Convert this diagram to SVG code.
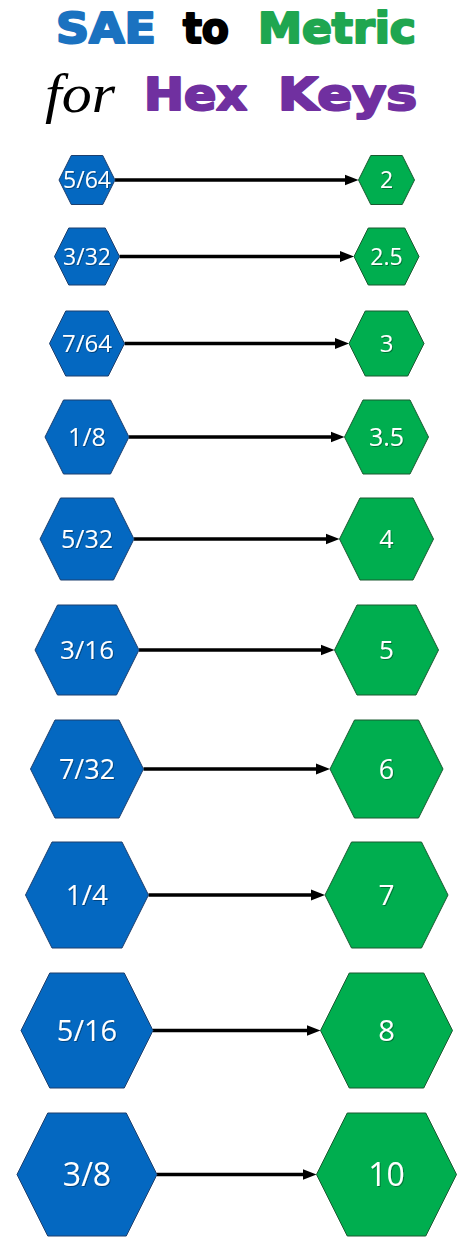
<svg xmlns="http://www.w3.org/2000/svg" width="474" height="1250" viewBox="0 0 474 1250">
<style>
.sae{fill:#0468C1;stroke:#1D3F6E;stroke-width:1}
.met{fill:#00AE4F;stroke:#1A5A30;stroke-width:1}
.lbl{font-family:"Open Sans","Liberation Sans",sans-serif;fill:#FFFFFF;text-anchor:middle;filter:url(#sh)}
.conn{stroke:#000;stroke-width:3.5;fill:none;marker-end:url(#ah)}
.ttl{font-family:"DejaVu Sans","Liberation Sans",sans-serif;font-weight:bold;stroke-width:2.2;stroke-linejoin:round}
</style>
<defs>
<marker id="ah" markerUnits="userSpaceOnUse" markerWidth="14" markerHeight="12" refX="3" refY="6" orient="auto">
<path d="M0,0.5 L14,6 L0,11.5 z" fill="#000"/>
</marker>
<filter id="sh" x="-20%" y="-20%" width="140%" height="140%">
<feDropShadow dx="1" dy="1" stdDeviation="0.7" flood-color="#000" flood-opacity="0.35"/>
</filter>
</defs>
<rect width="474" height="1250" fill="#FFFFFF"/>
<g id="title">
<text class="ttl" y="43" font-size="42" fill="#1B72C0" stroke="#1B72C0"><tspan x="56" textLength="100" lengthAdjust="spacingAndGlyphs">SAE</tspan></text>
<text class="ttl" y="43" font-size="42" fill="#000000" stroke="#000000"><tspan x="183" textLength="46" lengthAdjust="spacingAndGlyphs">to</tspan></text>
<text class="ttl" y="43" font-size="42" fill="#1FA650" stroke="#1FA650"><tspan x="258" textLength="158" lengthAdjust="spacingAndGlyphs">Metric</tspan></text>
<text x="45" y="112" font-family="'Liberation Serif',serif" font-style="italic" font-size="54" fill="#000" textLength="70" lengthAdjust="spacingAndGlyphs">for</text>
<text class="ttl" y="110" font-size="44" fill="#7030A0" stroke="#7030A0"><tspan x="144" textLength="103" lengthAdjust="spacingAndGlyphs">Hex</tspan></text>
<text class="ttl" y="110" font-size="44" fill="#7030A0" stroke="#7030A0"><tspan x="278" textLength="139" lengthAdjust="spacingAndGlyphs">Keys</tspan></text>
</g>
<g id="connectors">
<line class="conn" x1="115" y1="180" x2="347.5" y2="180"/>
<line class="conn" x1="119.5" y1="256.5" x2="343" y2="256.5"/>
<line class="conn" x1="124.5" y1="343.5" x2="338" y2="343.5"/>
<line class="conn" x1="129" y1="437" x2="333.5" y2="437"/>
<line class="conn" x1="134" y1="539" x2="328.5" y2="539"/>
<line class="conn" x1="139" y1="650" x2="323.5" y2="650"/>
<line class="conn" x1="143.5" y1="769" x2="319" y2="769"/>
<line class="conn" x1="148.5" y1="895" x2="314" y2="895"/>
<line class="conn" x1="153" y1="1030.5" x2="309.5" y2="1030.5"/>
<line class="conn" x1="157" y1="1174.5" x2="305.5" y2="1174.5"/>
</g>
<g id="sae-5-64"><polygon class="sae" points="59,180 71.25,155.5 102.75,155.5 115,180 102.75,204.5 71.25,204.5"/><text class="lbl" x="87" y="188.2" font-size="23">5/64</text></g>
<g id="met-2"><polygon class="met" points="358.5,180 370.75,155.5 402.25,155.5 414.5,180 402.25,204.5 370.75,204.5"/><text class="lbl" x="386.5" y="188.2" font-size="23">2</text></g>
<g id="sae-3-32"><polygon class="sae" points="54.5,256.5 68.75,228 105.25,228 119.5,256.5 105.25,285 68.75,285"/><text class="lbl" x="87" y="264.7" font-size="23">3/32</text></g>
<g id="met-2-5"><polygon class="met" points="354,256.5 368.25,228 404.75,228 419,256.5 404.75,285 368.25,285"/><text class="lbl" x="386.5" y="264.7" font-size="23">2.5</text></g>
<g id="sae-7-64"><polygon class="sae" points="49.5,343.5 65.75,311 108.25,311 124.5,343.5 108.25,376 65.75,376"/><text class="lbl" x="87" y="352.1" font-size="24">7/64</text></g>
<g id="met-3"><polygon class="met" points="349,343.5 365.25,311 407.75,311 424,343.5 407.75,376 365.25,376"/><text class="lbl" x="386.5" y="352.1" font-size="24">3</text></g>
<g id="sae-1-8"><polygon class="sae" points="45,437 63.5,400 110.5,400 129,437 110.5,474 63.5,474"/><text class="lbl" x="87" y="445.9" font-size="25">1/8</text></g>
<g id="met-3-5"><polygon class="met" points="344.5,437 363,400 410,400 428.5,437 410,474 363,474"/><text class="lbl" x="386.5" y="445.9" font-size="25">3.5</text></g>
<g id="sae-5-32"><polygon class="sae" points="40,539 60.5,498 113.5,498 134,539 113.5,580 60.5,580"/><text class="lbl" x="87" y="547.9" font-size="25">5/32</text></g>
<g id="met-4"><polygon class="met" points="339.5,539 360,498 413,498 433.5,539 413,580 360,580"/><text class="lbl" x="386.5" y="547.9" font-size="25">4</text></g>
<g id="sae-3-16"><polygon class="sae" points="35,650 57.5,605 116.5,605 139,650 116.5,695 57.5,695"/><text class="lbl" x="87" y="659.3" font-size="26">3/16</text></g>
<g id="met-5"><polygon class="met" points="334.5,650 357,605 416,605 438.5,650 416,695 357,695"/><text class="lbl" x="386.5" y="659.3" font-size="26">5</text></g>
<g id="sae-7-32"><polygon class="sae" points="30.5,769 55,720 119,720 143.5,769 119,818 55,818"/><text class="lbl" x="87" y="778.6" font-size="27">7/32</text></g>
<g id="met-6"><polygon class="met" points="330,769 354.5,720 418.5,720 443,769 418.5,818 354.5,818"/><text class="lbl" x="386.5" y="778.6" font-size="27">6</text></g>
<g id="sae-1-4"><polygon class="sae" points="25.5,895 52,842 122,842 148.5,895 122,948 52,948"/><text class="lbl" x="87" y="905" font-size="28">1/4</text></g>
<g id="met-7"><polygon class="met" points="325,895 351.5,842 421.5,842 448,895 421.5,948 351.5,948"/><text class="lbl" x="386.5" y="905" font-size="28">7</text></g>
<g id="sae-5-16"><polygon class="sae" points="21,1030.5 49.75,973 124.25,973 153,1030.5 124.25,1088 49.75,1088"/><text class="lbl" x="87" y="1040.8" font-size="29">5/16</text></g>
<g id="met-8"><polygon class="met" points="320.5,1030.5 349.25,973 423.75,973 452.5,1030.5 423.75,1088 349.25,1088"/><text class="lbl" x="386.5" y="1040.8" font-size="29">8</text></g>
<g id="sae-3-8"><polygon class="sae" points="17,1174.5 47.75,1113 126.25,1113 157,1174.5 126.25,1236 47.75,1236"/><text class="lbl" x="87" y="1185.9" font-size="32">3/8</text></g>
<g id="met-10"><polygon class="met" points="316.5,1174.5 347.25,1113 425.75,1113 456.5,1174.5 425.75,1236 347.25,1236"/><text class="lbl" x="386.5" y="1185.9" font-size="32">10</text></g>
</svg>
